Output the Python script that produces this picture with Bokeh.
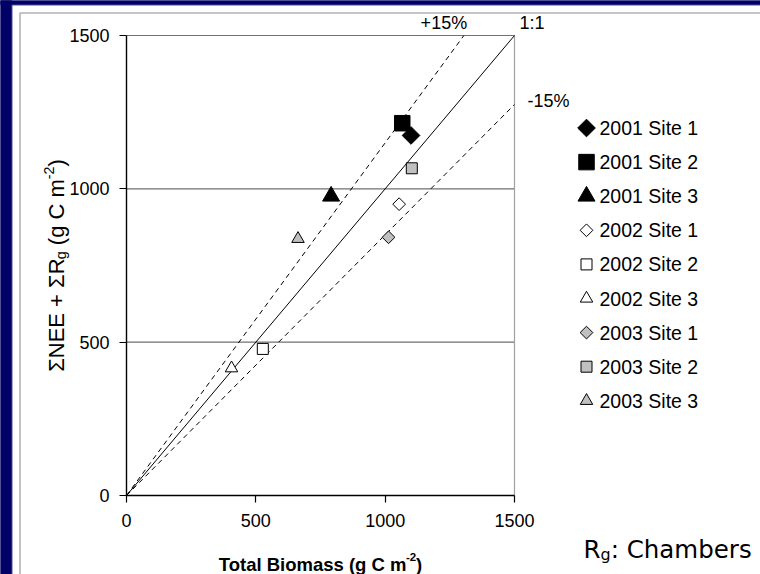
import math
from bokeh.plotting import figure
from bokeh.models import Range1d, FixedTicker, Label, BoxAnnotation
from bokeh.embed import file_html
from bokeh.resources import INLINE
from bokeh.core.properties import value

# ---------------- data ----------------
series = ["2001 Site 1", "2001 Site 2", "2001 Site 3",
          "2002 Site 1", "2002 Site 2", "2002 Site 3",
          "2003 Site 1", "2003 Site 2", "2003 Site 3"]
total_biomass = [1100, 1066, 791, 1054, 527, 406, 1013, 1103, 663]
nee_plus_rg = [1174, 1214, 976, 950, 478, 415, 842, 1067, 837]
ref_slopes = [1.15, 1.0, 0.85]
ref_names = ["+15%", "1:1", "-15%"]
ticks = [0, 500, 1000, 1500]
axis_max = 1500

# ---------------- styles ----------------
shape = ["diamond", "square", "triangle"] * 3
fills = ["black"] * 3 + ["white"] * 3 + ["#c0c0c0"] * 3
big = [True] * 3 + [False] * 6
SIZES = {("diamond", True): 12.5, ("square", True): 15.5, ("triangle", True): 17,
         ("diamond", False): 9, ("square", False): 11, ("triangle", False): 12.5}
NAVY = "#000066"
GRID = "#707070"
FONT = "Liberation Sans"

# ---------------- layout (screen px of the page) ----------------
W, H = 760, 574
AX_X0, AX_X1 = 126, 514      # x = 0 and x = axis_max
AX_Y0, AX_Y1 = 495, 35       # y = 0 and y = axis_max
PXX = (AX_X1 - AX_X0) / axis_max
PXY = (AX_Y0 - AX_Y1) / axis_max


def dx(px):
    return (px - AX_X0) / PXX


def dy(py):
    return (AX_Y0 - py) / PXY


AW = {' ': 278, '(': 333, ')': 333, '+': 584, '-': 333, ':': 278, '%': 889, 'C': 722, 'E': 667,
      'N': 722, 'R': 722, 'S': 667, 'T': 611, 'B': 667, 'a': 556, 'b': 556, 'e': 556, 'g': 556,
      'h': 556, 'i': 222, 'l': 222, 'm': 833, 'o': 556, 'r': 333, 's': 500, 't': 278, 'Σ': 600}
AWB = {' ': 278, '(': 333, ')': 333, '-': 333, 'T': 611, 'o': 611, 't': 333, 'a': 556, 'l': 278,
       'B': 722, 'i': 278, 'm': 889, 's': 556, 'g': 611, 'C': 722}


def tw(s, size, bold=False):
    t = AWB if bold else AW
    return sum(t.get(c, 556) for c in s) / 1000 * size


p = figure(width=W, height=H, x_range=Range1d(dx(0), dx(W)), y_range=Range1d(dy(H), dy(0)),
           output_backend="svg", toolbar_location=None,
           min_border_left=0, min_border_right=0, min_border_top=0, min_border_bottom=0,
           outline_line_color=None, background_fill_color="white", border_fill_color="white")
p.grid.visible = False

for ax in (p.xaxis[0], p.yaxis[0]):
    ax.fixed_location = 0
    ax.ticker = FixedTicker(ticks=ticks)
    ax.bounds = (0, axis_max)
    ax.axis_line_color = "black"
    ax.axis_line_width = 1.4
    ax.major_tick_line_color = "black"
    ax.major_tick_line_width = 1.2
    ax.major_tick_out = 7
    ax.major_tick_in = 0
    ax.minor_tick_line_color = None
    ax.major_label_text_font = FONT
    ax.major_label_text_font_size = "18px"
    ax.major_label_text_color = "black"
p.yaxis.major_label_standoff = 10
p.xaxis.major_label_standoff = 11

# slide background: navy edge and black frame line
p.add_layout(BoxAnnotation(left=dx(-20), right=dx(12), bottom=dy(H + 20), top=dy(-20),
                           fill_color="#4c4c96", fill_alpha=1, line_color=None))
p.add_layout(BoxAnnotation(left=dx(-20), right=dx(W + 20), bottom=dy(5), top=dy(-20),
                           fill_color="#4c4c96", fill_alpha=1, line_color=None))
p.add_layout(BoxAnnotation(left=dx(-20), right=dx(11), bottom=dy(H + 20), top=dy(-20),
                           fill_color=NAVY, fill_alpha=1, line_color=None))
p.add_layout(BoxAnnotation(left=dx(-20), right=dx(W + 20), bottom=dy(4), top=dy(-20),
                           fill_color=NAVY, fill_alpha=1, line_color=None))
p.add_layout(BoxAnnotation(left=dx(19.5), right=dx(W + 30), bottom=dy(H + 30), top=dy(12.5),
                           fill_color=None, fill_alpha=0, line_color="black", line_width=1.6))

# gridlines & plot-area border
grid_vals = ticks[1:]
p.segment(x0=[0] * len(grid_vals), x1=[axis_max] * len(grid_vals), y0=grid_vals, y1=grid_vals,
          line_color=GRID, line_width=1.2)
p.segment(x0=[axis_max], x1=[axis_max], y0=[0], y1=[axis_max], line_color="#a0a0a0", line_width=1.2)

# reference lines
label_off = {"+15%": (-20, 13, "center"), "1:1": (5, 13, "left"), "-15%": (13, 4, "left")}
for s, name in zip(ref_slopes, ref_names):
    xe = min(axis_max, axis_max / s)
    ye = s * xe
    p.line([0, xe], [0, ye], line_color="black", line_width=1,
           line_dash="solid" if s == 1 else "5 4")
    ox, oy, al = label_off[name]
    p.add_layout(Label(x=xe, y=ye, x_offset=ox, y_offset=oy, text=name, text_align=al,
                       text_baseline="middle", text_font=FONT, text_font_size="18px",
                       text_color="black"))

# data points
for i in range(len(series)):
    m = shape[i]
    sz = SIZES[(m, big[i])]
    mk, ang = ("square", math.pi / 4) if m == "diamond" else (m, 0)
    p.scatter(x=[total_biomass[i]], y=[nee_plus_rg[i]], marker=mk, angle=ang, size=sz,
              fill_color=fills[i], line_color="black", line_width=1)

# legend
LEG_X, LEG_TX, LEG_Y0, LEG_DY = 586, 599, 127.5, 34.1
for i in range(len(series)):
    m = shape[i]
    sz = SIZES[(m, big[i])]
    mk, ang = ("square", math.pi / 4) if m == "diamond" else (m, 0)
    p.scatter(x=[dx(LEG_X)], y=[dy(LEG_Y0 + LEG_DY * i)], marker=mk, angle=ang, size=sz,
              fill_color=fills[i], line_color="black", line_width=1)
p.text(x=[dx(LEG_TX)] * len(series), y=[dy(LEG_Y0 + LEG_DY * i) for i in range(len(series))],
       text=series, text_font=value(FONT), text_font_size="19.5px", text_baseline="middle",
       text_align="left", text_color="black")


def lab(px, py, text, size, bold=False, angle=0, font=FONT, align="left", baseline="alphabetic"):
    p.add_layout(Label(x=dx(px), y=dy(py), text=text, angle=angle, text_align=align,
                       text_baseline=baseline, text_font=font, text_font_size=f"{size}px",
                       text_font_style="bold" if bold else "normal", text_color="black"))


# x axis label (bold, with superscript); 4th value: gap after piece
XF = 18.5
xs_pieces = [("Total Biomass (g C m", XF, 0, -2), ("-2", XF * 0.62, 0.38 * XF, 0), (")", XF, 0, 0)]
tot = sum(tw(t, s, True) + g for t, s, _, g in xs_pieces)
xpos = (AX_X0 + AX_X1) / 2 - tot / 2
XB = 564
for t, s, sh, g in xs_pieces:
    lab(xpos, XB - sh, t, s, bold=True)
    xpos += tw(t, s, True) + g

# y axis label (rotated, with subscript / superscript); 4th value: gap after piece
YF = 22
ys_pieces = [("ΣNEE + ΣR", YF, 0, 0), ("g", YF * 0.65, -0.2 * YF, tw(" ", YF)),
             ("(g C m", YF, 0, 0), ("-2", YF * 0.65, 0.36 * YF, 0), (")", YF, 0, 0)]
tot = sum(tw(t, s) + g for t, s, _, g in ys_pieces)
YBASE_X = 56
ypos = (AX_Y0 + AX_Y1) / 2 + tot / 2
for t, s, sh, g in ys_pieces:
    lab(YBASE_X - sh, ypos, t, s, angle=math.pi / 2)
    ypos -= tw(t, s) + g

# R_g: Chambers
RF = 24.5
RFONT = "DejaVu Sans"
r_pieces = [("R", RF, 0), ("g", RF * 0.65, -0.22 * RF), (": Chambers", RF, 0)]
rw = {"R": 0.695 * RF, "g": 0.635 * RF * 0.65}
xpos = 583
for t, s, sh in r_pieces:
    lab(xpos, 549 - sh, t, s, font=RFONT)
    xpos += rw.get(t, 0)

open("out.html", "w").write(file_html(p, INLINE))
